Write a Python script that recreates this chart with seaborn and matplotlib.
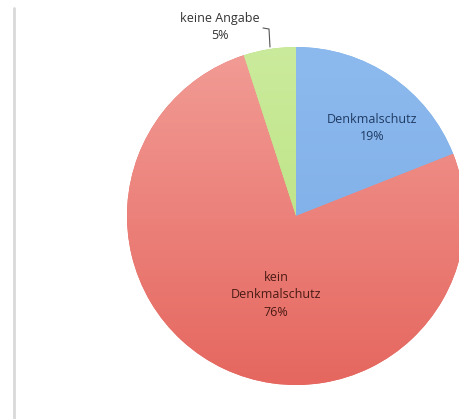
import numpy as np
import matplotlib
matplotlib.use("Agg")
import matplotlib.pyplot as plt
import seaborn as sns
from matplotlib.colors import LinearSegmentedColormap

# Share of buildings by heritage-protection status
categories = ["Denkmalschutz", "kein\nDenkmalschutz", "keine Angabe"]
shares = [19, 76, 5]
label_colors = ["#1f3a63", "#4a1a14", "#333333"]

sns.set_theme(style="white")
plt.rcParams["font.family"] = ["Open Sans", "DejaVu Sans"]

W, H = 460, 419
fig = plt.figure(figsize=(W / 100, H / 100), dpi=100)
ax = fig.add_axes([0, 0, 1, 1])

cx, cy, r = 296, H - 216, 169

# gradient stops (top colour, bottom colour) for each slice
grads = [("#8dbaee", "#78aae6"), ("#f29c96", "#e5675f"), ("#cbeb9c", "#b4de78")]

wedges, _ = ax.pie(shares, startangle=90, counterclock=False,
                   center=(cx, cy), radius=r, colors=[g[1] for g in grads],
                   wedgeprops=dict(linewidth=0), frame=True)
ax.set_xlim(0, W)
ax.set_ylim(0, H)
ax.set_aspect("equal")
ax.axis("off")

grad = np.linspace(0, 1, 256).reshape(-1, 1)
for w, (top, bot) in zip(wedges, grads):
    cmap = LinearSegmentedColormap.from_list("g", [bot, top])
    im = ax.imshow(grad, cmap=cmap, origin="lower", aspect="auto",
                   extent=(cx - r, cx + r, cy - r, cy + r), zorder=2)
    im.set_clip_path(w)

# slice labels
ax.text(372, H - 128, f"{categories[0]}\n{shares[0]}%", ha="center", va="center",
        fontsize=9, color=label_colors[0], linespacing=1.45, zorder=5)
ax.text(276, H - 295, f"{categories[1]}\n{shares[1]}%", ha="center", va="center",
        fontsize=9, color=label_colors[1], linespacing=1.45, zorder=5)
ax.text(220, H - 27, f"{categories[2]}\n{shares[2]}%", ha="center", va="center",
        fontsize=9, color=label_colors[2], linespacing=1.45, zorder=5)

# leader line for the small slice
ax.plot([263, 269, 270], [H - 28, H - 29, H - 47], color="#555555", lw=0.8, zorder=5)

# left frame edge
ax.plot([14, 14], [H - 8, 1], color="#d9d9d9", lw=2, zorder=1)

fig.savefig("out.png", dpi=100)
